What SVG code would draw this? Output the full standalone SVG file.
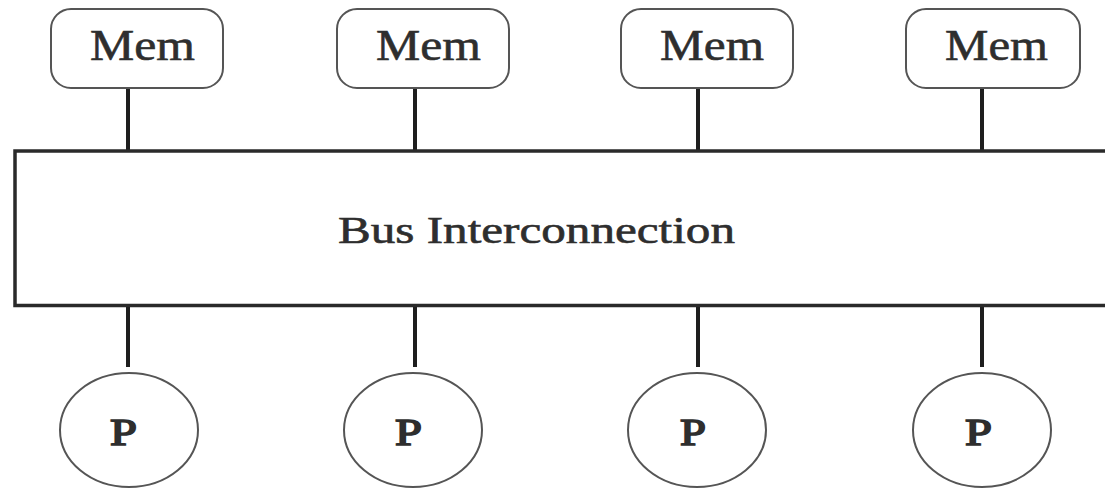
<svg xmlns="http://www.w3.org/2000/svg" width="1105" height="489" viewBox="0 0 1105 489">
<style>
.mem{fill:#fff;stroke:#555;stroke-width:2}
.proc{fill:#fff;stroke:#555;stroke-width:2}
.bus{fill:#fff;stroke:#2a2a2a;stroke-width:3.5}
.link{stroke:#1e1e1e;stroke-width:4;fill:none}
.t{font-family:"Liberation Serif","Times New Roman",serif;fill:#2e2e2e;stroke:#2e2e2e;stroke-width:0.6}
.tm{font-size:44px}
.tp{font-size:38px;stroke-width:1.6}
.tb{font-size:38px}
</style>
<rect width="1105" height="489" fill="#fff"/>
<g id="connectors">
<line class="link" x1="128" y1="88" x2="128" y2="150"/>
<line class="link" x1="415" y1="88" x2="415" y2="150"/>
<line class="link" x1="698" y1="88" x2="698" y2="150"/>
<line class="link" x1="982" y1="88" x2="982" y2="150"/>
<line class="link" x1="128" y1="306" x2="128" y2="367"/>
<line class="link" x1="415" y1="306" x2="415" y2="367"/>
<line class="link" x1="698" y1="306" x2="698" y2="367"/>
<line class="link" x1="982" y1="306" x2="982" y2="367"/>
</g>
<g id="bus">
<path class="bus" d="M1106 151 H15 V305.5 H1106"/>
<text class="t tb" x="338" y="243" textLength="397" lengthAdjust="spacingAndGlyphs">Bus Interconnection</text>
</g>
<g id="mem1">
<rect class="mem" x="51" y="9" width="172" height="79" rx="20"/>
<text class="t tm" x="90" y="60" textLength="105" lengthAdjust="spacingAndGlyphs">Mem</text>
</g>
<g id="mem2">
<rect class="mem" x="337" y="9" width="172" height="79" rx="20"/>
<text class="t tm" x="376" y="60" textLength="105" lengthAdjust="spacingAndGlyphs">Mem</text>
</g>
<g id="mem3">
<rect class="mem" x="621" y="9" width="172" height="79" rx="20"/>
<text class="t tm" x="660" y="60" textLength="104" lengthAdjust="spacingAndGlyphs">Mem</text>
</g>
<g id="mem4">
<rect class="mem" x="906" y="9" width="174" height="79" rx="20"/>
<text class="t tm" x="945" y="60" textLength="103" lengthAdjust="spacingAndGlyphs">Mem</text>
</g>
<g id="p1">
<ellipse class="proc" cx="129" cy="430" rx="69" ry="57"/>
<text class="t tp" x="110" y="445" textLength="27" lengthAdjust="spacingAndGlyphs">P</text>
</g>
<g id="p2">
<ellipse class="proc" cx="413" cy="430" rx="69" ry="57"/>
<text class="t tp" x="395" y="445" textLength="27" lengthAdjust="spacingAndGlyphs">P</text>
</g>
<g id="p3">
<ellipse class="proc" cx="697" cy="430" rx="69" ry="57"/>
<text class="t tp" x="680" y="445" textLength="26" lengthAdjust="spacingAndGlyphs">P</text>
</g>
<g id="p4">
<ellipse class="proc" cx="982" cy="430" rx="69" ry="57"/>
<text class="t tp" x="965" y="445" textLength="27" lengthAdjust="spacingAndGlyphs">P</text>
</g>
</svg>
